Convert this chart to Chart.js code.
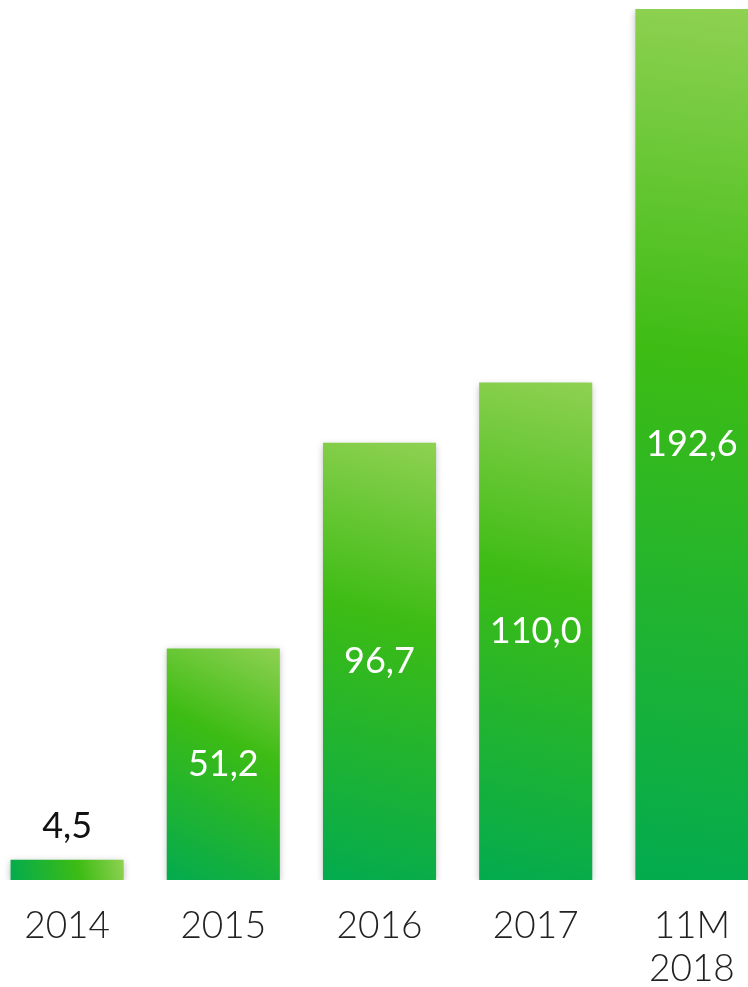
<!DOCTYPE html>
<html>
<head>
<meta charset="utf-8">
<script src="https://cdn.jsdelivr.net/npm/chart.js@4/dist/chart.umd.min.js"></script>
<style>
  html, body { margin: 0; padding: 0; background: #fff; overflow: hidden; }
  #wrap { position: absolute; left: -11px; top: 0; width: 781px; height: 987px; }
</style>
</head>
<body>
<div id="wrap"><canvas id="chart" width="781" height="987"></canvas></div>
<script>
// Data
const years = ['2014', '2015', '2016', '2017', ['11M', '2018']];
const volumes = [4.5, 51.2, 96.7, 110.0, 192.6];

const FONT = 'Lato';

// Diagonal green gradient per bar: dark bottom-left -> light top-right
function barGradient (context) {
    const chart = context.chart;
    const xs = chart.scales.x, ys = chart.scales.y;
    if (!chart.chartArea || !xs || !ys || context.dataIndex === undefined) return '#3dbc14';
    const i = context.dataIndex;
    const cx = xs.getPixelForValue(i);
    const half = xs.width / years.length * 0.724 / 2;
    const top = ys.getPixelForValue(volumes[i]);
    const bottom = ys.getPixelForValue(0);
    const g = chart.ctx.createLinearGradient(cx - half, bottom, cx + half, top);
    g.addColorStop(0, '#03ab4e');
    g.addColorStop(0.6, '#3dbc14');
    g.addColorStop(1, '#8fd152');
    return g;
}

// Soft shadow behind bars
const barShadow = {
    id: 'barShadow',
    beforeDatasetsDraw (chart) {
        const ctx = chart.ctx;
        ctx.save();
        ctx.shadowColor = 'rgba(0,0,0,0.28)';
        ctx.shadowBlur = 7;
        ctx.shadowOffsetX = 0;
        ctx.shadowOffsetY = 2;
    },
    afterDatasetsDraw (chart) {
        chart.ctx.restore();
    }
};

// Value labels: inside bar (white), or above if the bar is too short
const valueLabels = {
    id: 'valueLabels',
    afterDatasetsDraw (chart) {
        const ctx = chart.ctx;
        const meta = chart.getDatasetMeta(0);
        ctx.save();
        ctx.font = '400 36px ' + FONT;
        ctx.textAlign = 'center';
        ctx.textBaseline = 'middle';
        meta.data.forEach((bar, i) => {
            const { x, y, base } = bar.getProps(['x', 'y', 'base'], true);
            const text = volumes[i].toFixed(1).replace('.', ',');
            if (base - y < 60) {
                ctx.fillStyle = '#111';
                ctx.fillText(text, x, y - 33);
            } else {
                ctx.fillStyle = '#fff';
                ctx.fillText(text, x, (y + base) / 2);
            }
        });
        ctx.restore();
    }
};

new Chart(document.getElementById('chart'), {
    type: 'bar',
    data: {
        labels: years,
        datasets: [{
            data: volumes,
            backgroundColor: barGradient,
            borderWidth: 0,
            categoryPercentage: 1,
            barPercentage: 0.724
        }]
    },
    options: {
        responsive: false,
        animation: false,
        layout: { padding: { top: 9, left: 0, right: 0, bottom: 0 } },
        plugins: { legend: { display: false }, tooltip: { enabled: false } },
        scales: {
            x: {
                grid: { display: false, drawTicks: false },
                border: { display: false },
                ticks: {
                    color: '#222',
                    font: { family: FONT, size: 37, weight: '300', lineHeight: 1.17 },
                    padding: 24,
                    maxRotation: 0,
                    autoSkip: false
                },
                afterFit (scale) { scale.height = 107; }
            },
            y: {
                display: false,
                min: 0,
                max: 192.6
            }
        }
    },
    plugins: [barShadow, valueLabels]
});
</script>
</body>
</html>
